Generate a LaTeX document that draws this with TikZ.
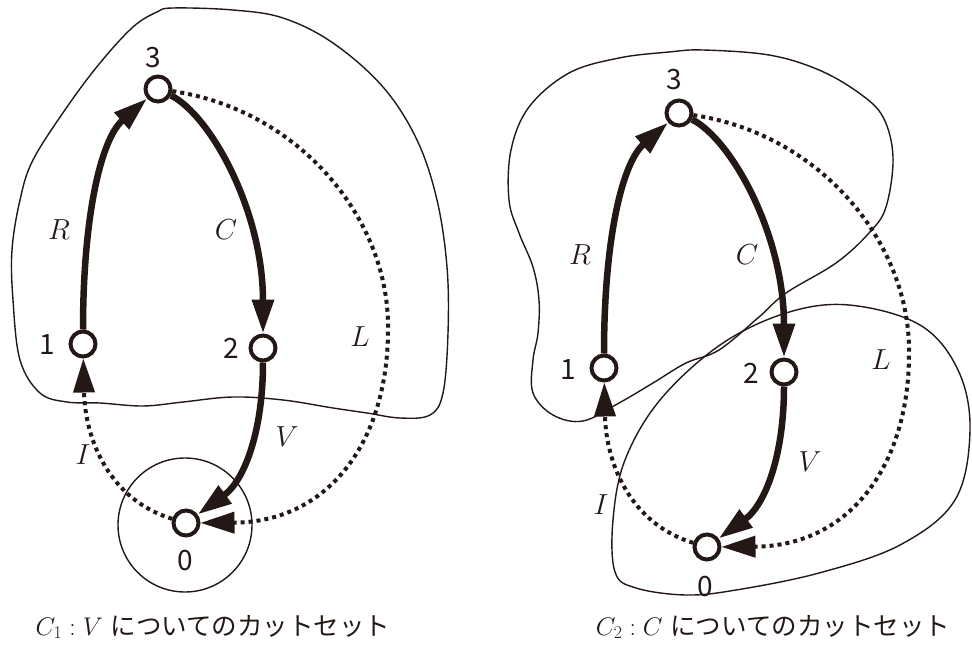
\RequirePackage{fix-cm}
\documentclass[tikz,border=0pt]{standalone}
\usepackage{fontspec}
\newfontfamily\cjk{Noto Sans CJK JP}
\usetikzlibrary{arrows.meta}
\definecolor{ink}{RGB}{35,24,21}
\begin{document}
\begin{tikzpicture}[x=1pt,y=-1pt,
  vtx/.style={circle,draw=ink,line width=4pt,fill=white,minimum size=25pt,inner sep=0pt},
  num/.style={font=\cjk\fontsize{28}{32}\selectfont,text=ink,inner sep=0pt},
  lab/.style={font=\fontsize{29}{32}\selectfont,text=ink,inner sep=0pt},
  capt/.style={font=\fontsize{25.5}{30}\selectfont,text=ink,inner sep=0pt},
  solidedge/.style={draw=ink,line width=6.5pt,-{Triangle[length=34pt,width=21pt]}},
  dotedge/.style={draw=ink,line width=4pt,dash pattern=on 4pt off 4pt,-{Triangle[length=34pt,width=21pt]}},
  cut/.style={draw=ink,line width=1.4pt}]
\useasboundingbox (0,0) rectangle (972,655);

% cut-set boundaries
\draw[cut] plot[smooth cycle,tension=0.6] coordinates {
 (173,8) (233,10) (283,18) (333,43) (383,87) (417,140) (437,200) (447,267)
 (448,333) (443,393) (430,415) (400,418) (367,413) (333,408) (283,400)
 (233,397) (183,402) (143,406) (100,403) (67,402) (40,393) (20,360)
 (13,300) (12,250) (20,200) (33,160) (67,107) (100,63) (133,27) (157,12)};
\draw[cut] (185,525) circle[radius=67];

\draw[cut] plot[smooth cycle,tension=0.6] coordinates {
 (703,50) (769,55) (819,70) (859,93) (883,117) (893,157) (886,207) (869,233)
 (836,263) (786,293) (759,317) (719,350) (686,363) (653,383) (619,403)
 (583,421) (553,415) (533,393) (533,360) (538,333) (539,300) (533,267)
 (519,233) (509,200) (511,150) (529,107) (569,73) (619,58) (669,52)};
\draw[cut] plot[smooth cycle,tension=0.6] coordinates {
 (849,305) (920,325) (958,370) (970,430) (955,500) (900,545) (819,573)
 (736,590) (686,595) (636,588) (615,572) (613,520) (625,460) (660,400)
 (720,345) (786,313)};

% the two graphs
\foreach \p/\sx/\sy in {a/0/0,b/521/24}{
 \begin{scope}[shift={(\sx,\sy)}]
  \node[vtx] (\p3) at (158,89) {};
  \node[vtx] (\p1) at (83,344) {};
  \node[vtx] (\p2) at (263,348) {};
  \node[vtx] (\p0) at (186,523) {};
  \coordinate (m\p) at (388,330);
  \draw[solidedge] (\p1) .. controls (83,220) and (100,140) .. (\p3);
  \draw[solidedge] (\p3) .. controls (210,115) and (263,210) .. (\p2);
  \draw[solidedge] (\p2) .. controls (263,430) and (245,480) .. (\p0);
  \draw[dotedge] (\p3) .. controls (300,110) and (390,220) .. (m\p)
                 .. controls (388,440) and (330,522) .. (\p0);
  \draw[dotedge] (\p0) .. controls (110,500) and (85,440) .. (\p1);
 \end{scope}
}

% labels, left
\node[num] (t3a) at (153,58) {3};
\node[num] (t1a) at (47,345) {1};
\node[num] (t2a) at (231,348) {2};
\node[num] (t0a) at (185,561) {0};
\node[lab] (ra) at (59,230) {$R$};
\node[lab] (ca) at (226,230) {$C$};
\node[lab] (la) at (360,337) {$L$};
\node[lab] (va) at (287,437) {$V$};
\node[lab] (ia) at (83,455) {$I$};
% labels, right
\node[num] (t3b) at (674,80) {3};
\node[num] (t1b) at (568,370) {1};
\node[num] (t2b) at (751,373) {2};
\node[num] (t0b) at (705,587) {0};
\node[lab] (rb) at (580,255) {$R$};
\node[lab] (cb) at (747,255) {$C$};
\node[lab] (lb) at (881,360) {$L$};
\node[lab] (vb) at (810,462) {$V$};
\node[lab] (ib) at (601,505) {$I$};

% captions
\node[capt] (capa) at (213,627) {$C_1:V$ {\cjk についてのカットセット}};
\node[capt] (capb) at (773,627) {$C_2:C$ {\cjk についてのカットセット}};
\end{tikzpicture}
\end{document}
